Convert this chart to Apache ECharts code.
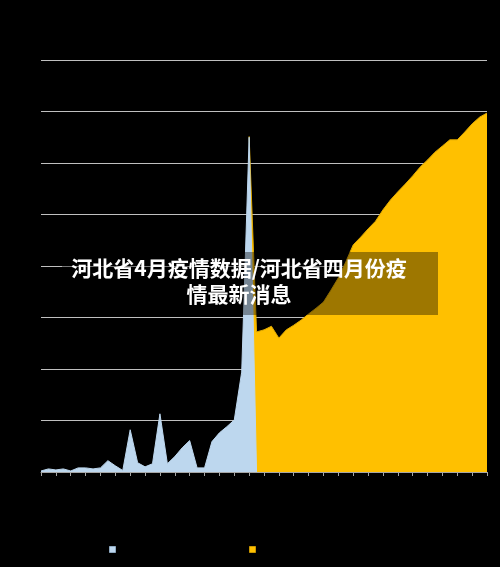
<!DOCTYPE html>
<html>
<head>
<meta charset="utf-8">
<script src="https://cdn.jsdelivr.net/npm/echarts@6/dist/echarts.min.js"></script>
<style>
html,body{margin:0;padding:0;background:#000;}
#chart{width:500px;height:567px;}
</style>
</head>
<body>
<div id="chart"></div>
<script>
const categories = [
 '3月1日','3月2日','3月3日','3月4日','3月5日','3月6日','3月7日','3月8日','3月9日','3月10日',
 '3月11日','3月12日','3月13日','3月14日','3月15日','3月16日','3月17日','3月18日','3月19日','3月20日',
 '3月21日','3月22日','3月23日','3月24日','3月25日','3月26日','3月27日','3月28日','3月29日','3月30日',
 '3月31日','4月1日','4月2日','4月3日','4月4日','4月5日','4月6日','4月7日','4月8日','4月9日',
 '4月10日','4月11日','4月12日','4月13日','4月14日','4月15日','4月16日','4月17日','4月18日','4月19日',
 '4月20日','4月21日','4月22日','4月23日','4月24日','4月25日','4月26日','4月27日','4月28日','4月29日','4月30日'
];
const seriesNames = ['确诊病例', '无症状感染者'];
const blueValues = [
 2,6,4,6,2,8,8,6,8,22,
 12,3,82,18,10,16,113,16,30,47,
 61,8,8,59,76,88,101,194,650,0,
 '-','-','-','-','-','-','-','-','-','-',
 '-','-','-','-','-','-','-','-','-','-',
 '-','-','-','-','-','-','-','-','-','-','-'
];
const goldValues = [
 '-','-','-','-','-','-','-','-','-','-',
 '-','-','-','-','-','-','-','-','-','-',
 '-','-','-','-','-','-','-','-',652,272,
 276,283,260,276,285,295,307,318,330,353,
 377,408,441,456,472,487,509,528,544,559,
 575,592,606,621,633,645,645,660,676,689,697
];
const titleText = '河北省4月疫情数据/河北省四月份疫\n情最新消息';

const chart = echarts.init(document.getElementById('chart'));
chart.setOption({
  backgroundColor: '#000000',
  animation: false,
  grid: { left: 41, right: 13, top: 60, bottom: 95, containLabel: false },
  legend: {
    data: [
      { name: seriesNames[0], itemStyle: { color: '#bdd7ee', borderColor: '#8ea9c1', borderWidth: 1 } },
      { name: seriesNames[1], itemStyle: { color: '#ffc000', borderColor: '#c99700', borderWidth: 1 } }
    ],
    left: 104, top: 541,
    icon: 'rect', itemWidth: 6, itemHeight: 6, itemGap: 133,
    formatter: function () { return ''; },
    textStyle: { color: '#000' }
  },
  xAxis: {
    type: 'category',
    data: categories,
    boundaryGap: false,
    axisLine: { lineStyle: { color: '#a6a6a6', width: 1 } },
    axisTick: { show: true, interval: 1, length: 4, lineStyle: { color: '#a6a6a6' } },
    axisLabel: { show: false },
    splitLine: { show: false }
  },
  yAxis: {
    type: 'value',
    min: 0, max: 800, interval: 100,
    axisLine: { show: false },
    axisTick: { show: false },
    axisLabel: { show: false },
    splitLine: { lineStyle: { color: '#bfbfbf', width: 1 } }
  },
  series: [
    {
      name: seriesNames[1], type: 'line', data: goldValues,
      symbol: 'none', z: 2,
      lineStyle: { color: '#e0a900', width: 1 },
      itemStyle: { color: '#ffc000' },
      areaStyle: { color: '#ffc000', opacity: 1 }
    },
    {
      name: seriesNames[0], type: 'line', data: blueValues,
      symbol: 'none', z: 3,
      lineStyle: { color: '#bdd7ee', width: 1 },
      itemStyle: { color: '#bdd7ee' },
      areaStyle: { color: '#bdd7ee', opacity: 1 }
    }
  ],
  graphic: [
    {
      type: 'rect', z: 100,
      shape: { x: 62, y: 252, width: 376, height: 63 },
      style: { fill: 'rgba(0,0,0,0.38)' }
    },
    {
      type: 'text', z: 101,
      x: 239, y: 281,
      style: {
        text: titleText,
        fill: '#ffffff',
        fontSize: 21,
        fontWeight: 'bold',
        fontFamily: '"Noto Sans CJK SC", sans-serif',
        lineHeight: 26,
        align: 'center',
        verticalAlign: 'middle'
      }
    }
  ]
});
</script>
</body>
</html>
